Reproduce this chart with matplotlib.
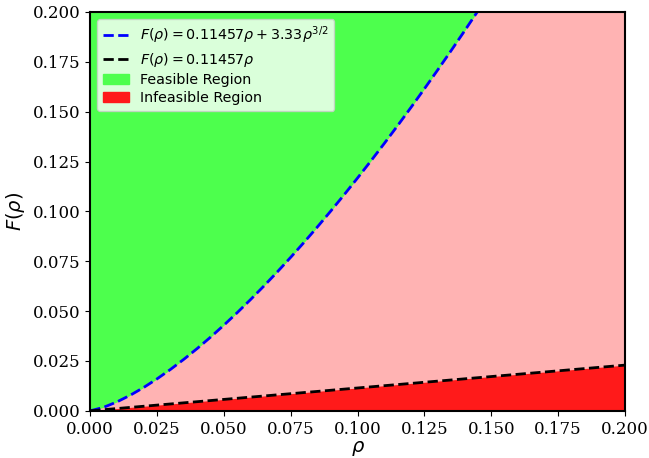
import matplotlib
matplotlib.use("Agg")
import matplotlib.pyplot as plt
from matplotlib.patches import Patch

# upper boundary F(rho) = 0.11457 rho + 3.33 rho^(3/2)
rho = [0.000, 0.005, 0.010, 0.015, 0.020, 0.025, 0.030, 0.035, 0.040, 0.045,
       0.050, 0.055, 0.060, 0.065, 0.070, 0.075, 0.080, 0.085, 0.090, 0.095,
       0.100, 0.105, 0.110, 0.115, 0.120, 0.125, 0.130, 0.135, 0.140, 0.145,
       0.150]
f_upper = [0.00000, 0.00175, 0.00448, 0.00784, 0.01171, 0.01603, 0.02074,
           0.02582, 0.03122, 0.03694, 0.04296, 0.04925, 0.05582, 0.06263,
           0.06969, 0.07699, 0.08451, 0.09226, 0.10022, 0.10839, 0.11676,
           0.12533, 0.13409, 0.14304, 0.15217, 0.16149, 0.17098, 0.18064,
           0.19048, 0.20048, 0.21064]

# lower boundary F(rho) = 0.11457 rho (black line)
rho_line = [0.000, 0.200]
f_lower = [0.000, 0.022914]

x_lim = [0.0, 0.2]
y_lim = [0.0, 0.2]

label_upper = r"$F(\rho) = 0.11457\rho + 3.33\rho^{3/2}$"
label_lower = r"$F(\rho) = 0.11457\rho$"

green = "#4dff4d"
pink = "#ffb3b3"
red = "#ff1a1a"

fig, ax = plt.subplots(figsize=(6.49, 4.58), dpi=100)
fig.subplots_adjust(left=0.139, right=0.963, top=0.974, bottom=0.103)

ax.fill_between(x_lim, y_lim[0], y_lim[1], color=pink, lw=0)
ax.fill_between(rho, f_upper, y_lim[1], color=green, lw=0)
ax.fill_between(rho_line, 0, f_lower, color=red, lw=0)

ax.plot(rho, f_upper, "--", color="blue", lw=2, label=label_upper)
ax.plot(rho_line, f_lower, "--", color="black", lw=2, label=label_lower)

ax.set_xlim(x_lim)
ax.set_ylim(y_lim)
ax.set_xlabel(r"$\rho$", fontsize=14, labelpad=1)
ax.set_ylabel(r"$F(\rho)$", fontsize=14)
ax.tick_params(labelsize=12, labelfontfamily="DejaVu Serif")
for s in ax.spines.values():
	s.set_linewidth(1.5)

handles, labels = ax.get_legend_handles_labels()
handles += [Patch(color=green), Patch(color=red)]
labels += ["Feasible Region", "Infeasible Region"]
ax.legend(handles, labels, loc="upper left", fontsize=10.3, labelspacing=0.3,
          handlelength=1.8)

fig.savefig("out.png", dpi=100)
